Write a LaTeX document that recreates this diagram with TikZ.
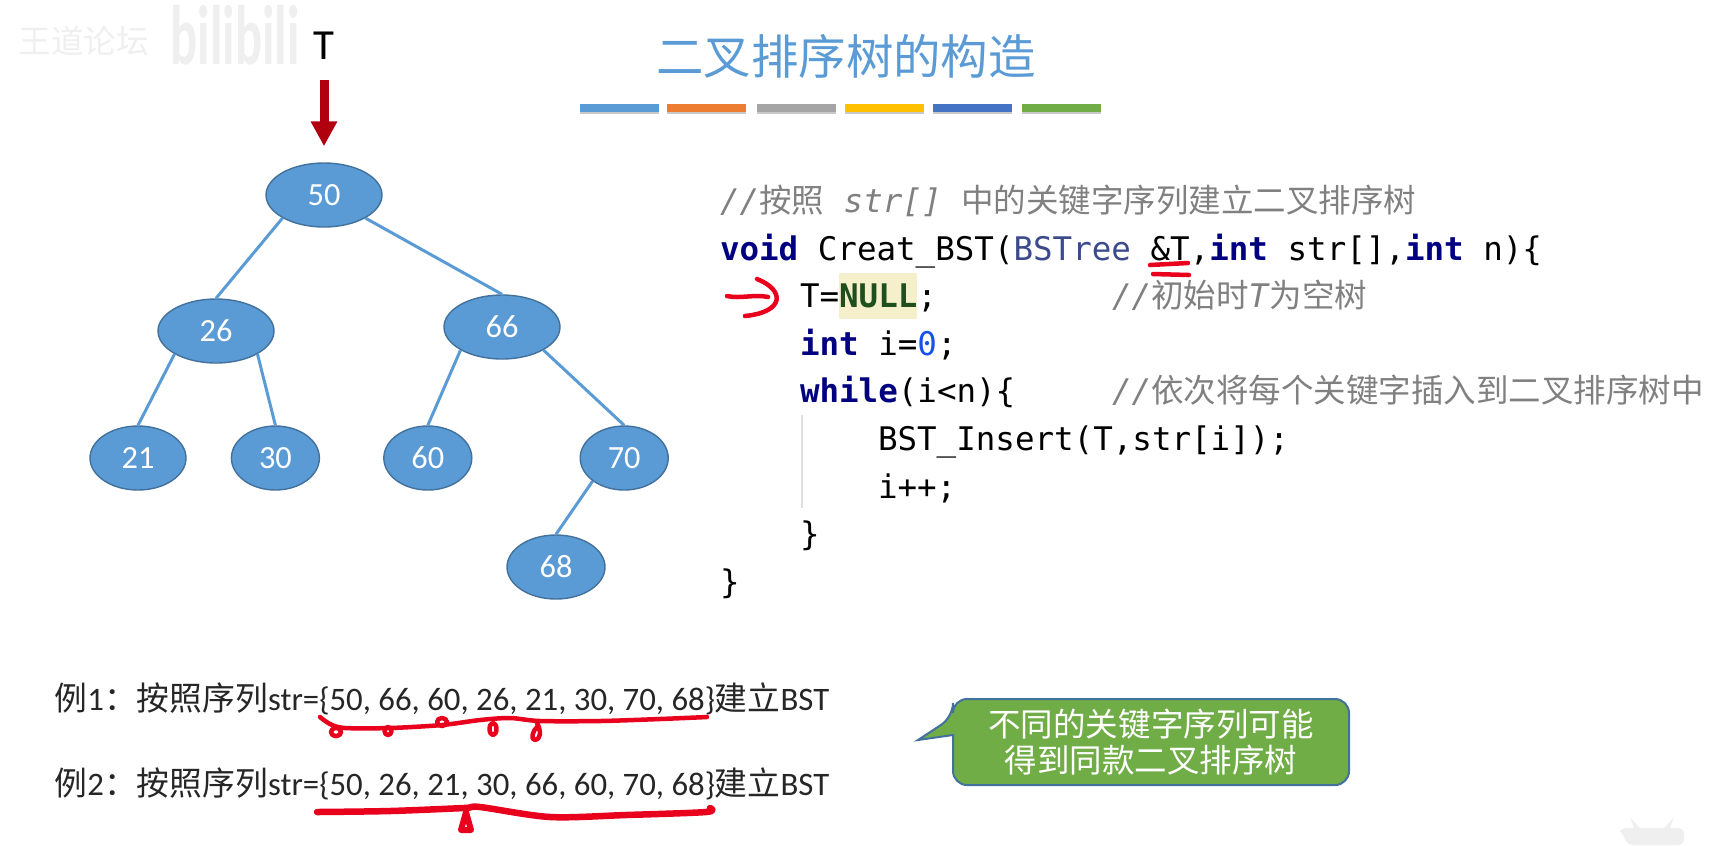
\documentclass[tikz,border=0pt]{standalone}
\usepackage{fontspec}
\setmainfont{Carlito}
\setmonofont{DejaVu Sans Mono}
\newfontfamily\cjk{Noto Sans CJK SC}
\usetikzlibrary{arrows.meta, positioning, shapes.geometric, shadows}

\definecolor{treeblue}{HTML}{5B9BD5}
\definecolor{treeedge}{HTML}{41719C}
\definecolor{barorange}{HTML}{ED7D31}
\definecolor{bargray}{HTML}{A5A5A5}
\definecolor{baryellow}{HTML}{FFC000}
\definecolor{barblue}{HTML}{4472C4}
\definecolor{bargreen}{HTML}{70AD47}
\definecolor{ptrred}{HTML}{B00010}
\definecolor{inkred}{HTML}{E8001C}
\definecolor{kwnavy}{HTML}{000080}
\definecolor{typeblue}{HTML}{3A4A8C}
\definecolor{nullgreen}{HTML}{1F4F1F}
\definecolor{nullbg}{HTML}{F6EFCB}
\definecolor{numblue}{HTML}{1750EB}
\definecolor{commentgray}{HTML}{808080}
\definecolor{faintmark}{HTML}{EFEFEF}

\newcommand{\zh}[1]{{\cjk #1}}
\newcommand{\kw}[1]{\textcolor{kwnavy}{\textbf{#1}}}

\begin{document}
\begin{tikzpicture}[
      treenode/.style={ellipse, draw=treeedge, fill=treeblue, text=white, inner sep=0pt, minimum height=6.4mm, font=\fontsize{9.2}{11}\selectfont},
      treeline/.style={treeblue, line width=0.3mm},
      pointer/.style={-{Triangle[length=2.5mm, width=2.5mm]}, ptrred, line width=0.9mm},
      barbox/.style={inner sep=0pt, outer sep=0pt, minimum width=7.9mm, minimum height=0.75mm, drop shadow={shadow xshift=0mm, shadow yshift=-0.25mm, opacity=0.3, fill=black!70}},
      codeline/.style={anchor=base west, inner sep=0pt, outer sep=0pt, font=\ttfamily\fontsize{9.25}{11}\selectfont},
      comment/.style={codeline, text=commentgray},
      example/.style={anchor=base west, inner sep=0pt, text=black!85, font=\fontsize{9.33}{11}\selectfont},
      ink/.style={inkred, line width=0.45mm, line cap=round, line join=round},
      tipbox/.style={fill=bargreen, draw=treeedge, line width=0.2mm}
    ]
    \useasboundingbox (0,0) rectangle (17.15,-8.45);

    % marks of the video
    \node[inner sep=0pt, text=faintmark, font=\cjk\fontsize{9.3}{11}\selectfont] (forum) at (0.84,-0.41) {王道论坛};
    \node[inner sep=0pt, text=faintmark, font=\bfseries\fontsize{24}{26}\selectfont] (site) at (2.35,-0.35) {\scalebox{0.6}[1]{bilibili}};
    \fill[faintmark] (16.28,-8.45) -- (16.2,-8.3) [rounded corners=0.5mm] -- (16.2,-8.28) -- (16.84,-8.28) -- (16.84,-8.45) -- cycle;
    \fill[faintmark] (16.3,-8.17) -- (16.4,-8.28) -- (16.34,-8.28) -- cycle;
    \fill[faintmark] (16.74,-8.17) -- (16.64,-8.28) -- (16.7,-8.28) -- cycle;

    % title
    \node[inner sep=0pt, text=treeblue, font=\cjk\fontsize{13.5}{15}\selectfont] (title) at (8.46,-0.565) {二叉排序树的构造};
    \node[barbox, fill=treeblue] (bar1) at (6.195,-1.08) {};
    \node[barbox, fill=barorange, right=0.8mm of bar1] (bar2) {};
    \node[barbox, fill=bargray, right=1.05mm of bar2] (bar3) {};
    \node[barbox, fill=baryellow, right=0.95mm of bar3] (bar4) {};
    \node[barbox, fill=barblue, right=0.9mm of bar4] (bar5) {};
    \node[barbox, fill=bargreen, right=1mm of bar5] (bar6) {};

    % tree
    \node[anchor=base, inner sep=0pt, font=\fontsize{12.2}{14}\selectfont] (T) at (3.24,-0.59) {T};
    \node[treenode, minimum width=11.6mm] (50) at (3.24,-1.95) {50};
    \node[treenode, minimum width=11.6mm] (26) at (2.16,-3.31) {26};
    \node[treenode, minimum width=11.6mm] (66) at (5.02,-3.27) {66};
    \node[treenode, minimum width=9.6mm] (21) at (1.38,-4.58) {21};
    \node[treenode, minimum width=8.8mm, right=4.4mm of 21] (30) {30};
    \node[treenode, minimum width=8.8mm, right=6.3mm of 30] (60) {60};
    \node[treenode, minimum width=8.8mm, right=10.7mm of 60] (70) {70};
    \node[treenode, minimum width=9.8mm] (68) at (5.56,-5.67) {68};
    \draw[pointer, shorten <=2mm, shorten >=1.6mm] (T) -- (50);
    \draw[treeline] (50.south west) -- (26.north);
    \draw[treeline] (50.south east) -- (66.north);
    \draw[treeline] (26.south west) -- (21.north);
    \draw[treeline] (26.south east) -- (30.north);
    \draw[treeline] (66.south west) -- (60.north);
    \draw[treeline] (66.south east) -- (70.north);
    \draw[treeline] (70.south west) -- (68.north);

    % code
    \node[comment] (line1) at (7.2,-2.12) {\textit{//}\zh{按照} \textit{str[]} \zh{中的关键字序列建立二叉排序树}};
    \node[codeline] (line2) at (7.2,-2.60) {\kw{void} Creat\_BST(\textcolor{typeblue}{BSTree} \&T,\kw{int} str[],\kw{int} n)\{};
    \node[codeline] (line3) at (8.0,-3.07) {T=};
    \node[codeline, base right=0mm of line3, fill=nullbg, text=nullgreen, text height=3.4mm, text depth=1.2mm] (nullword) {\textbf{NULL}};
    \node[codeline, base right=0mm of nullword] (semi) {;};
    \node[comment] (note1) at (11.12,-3.07) {\textit{//}\zh{初始时}\textit{T}\zh{为空树}};
    \node[codeline] (line4) at (8.0,-3.55) {\kw{int} i=\textcolor{numblue}{0};};
    \node[codeline] (line5) at (8.0,-4.02) {\kw{while}(i<n)\{};
    \node[comment] (note2) at (11.12,-4.02) {\textit{//}\zh{依次将每个关键字插入到二叉排序树中}};
    \node[codeline] (line6) at (8.78,-4.50) {BST\_Insert(T,str[i]);};
    \node[codeline] (line7) at (8.78,-4.98) {i++;};
    \node[codeline] (line8) at (8.0,-5.45) {\}};
    \node[codeline] (line9) at (7.2,-5.93) {\}};
    \coordinate (guidetop) at (8.02,-4.15);
    \coordinate (guideend) at (8.02,-5.08);
    \draw[black!12, line width=0.15mm] (guidetop) -- (guideend);

    % examples
    \node[example] (ex1) at (0.54,-7.10) {\zh{例}1\zh{：按照序列}str=\{50, 66, 60, 26, 21, 30, 70, 68\}\zh{建立}BST};
    \node[example] (ex2) at (0.54,-7.95) {\zh{例}2\zh{：按照序列}str=\{50, 26, 21, 30, 66, 60, 70, 68\}\zh{建立}BST};

    % tip
    \draw[tipbox, rounded corners=1.4mm] (11.5,-6.99) -- (9.53,-6.99) -- (9.53,-7.17) [sharp corners] -- (9.18,-7.40) -- (9.53,-7.35) [rounded corners=1.4mm] -- (9.53,-7.85) -- (13.49,-7.85) -- (13.49,-6.99) -- cycle;
    \node[align=center, inner sep=0pt, text=white, font=\cjk\fontsize{9.25}{10.4}\selectfont] (tip) at (11.51,-7.42) {不同的关键字序列可能\\得到同款二叉排序树};

    % pen strokes
    \draw[ink] (11.50,-2.65) -- (11.88,-2.63);
    \draw[ink] (11.53,-2.74) -- (11.89,-2.75);
    \draw[ink] (7.27,-2.96) .. controls (7.4,-2.99) and (7.55,-2.94) .. (7.68,-2.97);
    \draw[ink] (7.57,-2.79) .. controls (7.85,-2.90) and (7.85,-3.12) .. (7.45,-3.16);
    \draw[ink] plot[smooth] coordinates {(3.20,-7.17) (3.30,-7.24) (3.45,-7.28) (3.90,-7.28) (4.42,-7.25) (4.80,-7.20) (5.10,-7.18) (5.40,-7.21) (6.00,-7.21) (6.60,-7.19) (7.07,-7.17)};
    \draw[ink] (3.36,-7.32) ellipse (0.5mm and 0.42mm);
    \draw[ink] (3.88,-7.31) ellipse (0.35mm and 0.4mm);
    \draw[ink] (4.42,-7.22) ellipse (0.5mm and 0.4mm);
    \draw[ink] (4.93,-7.29) ellipse (0.35mm and 0.6mm);
    \draw[ink] (5.37,-7.23) .. controls (5.42,-7.32) and (5.40,-7.40) .. (5.35,-7.40) .. controls (5.30,-7.40) and (5.33,-7.30) .. (5.37,-7.27);
    \draw[ink, line width=0.65mm] plot[smooth] coordinates {(3.17,-8.12) (3.90,-8.11) (4.64,-8.08) (4.80,-8.07) (5.50,-8.17) (6.26,-8.15) (7.06,-8.12) (7.10,-8.08)};
    \draw[ink, line width=0.6mm] (4.66,-8.12) -- (4.61,-8.30) -- (4.71,-8.30) -- cycle;
\end{tikzpicture}
\end{document}
